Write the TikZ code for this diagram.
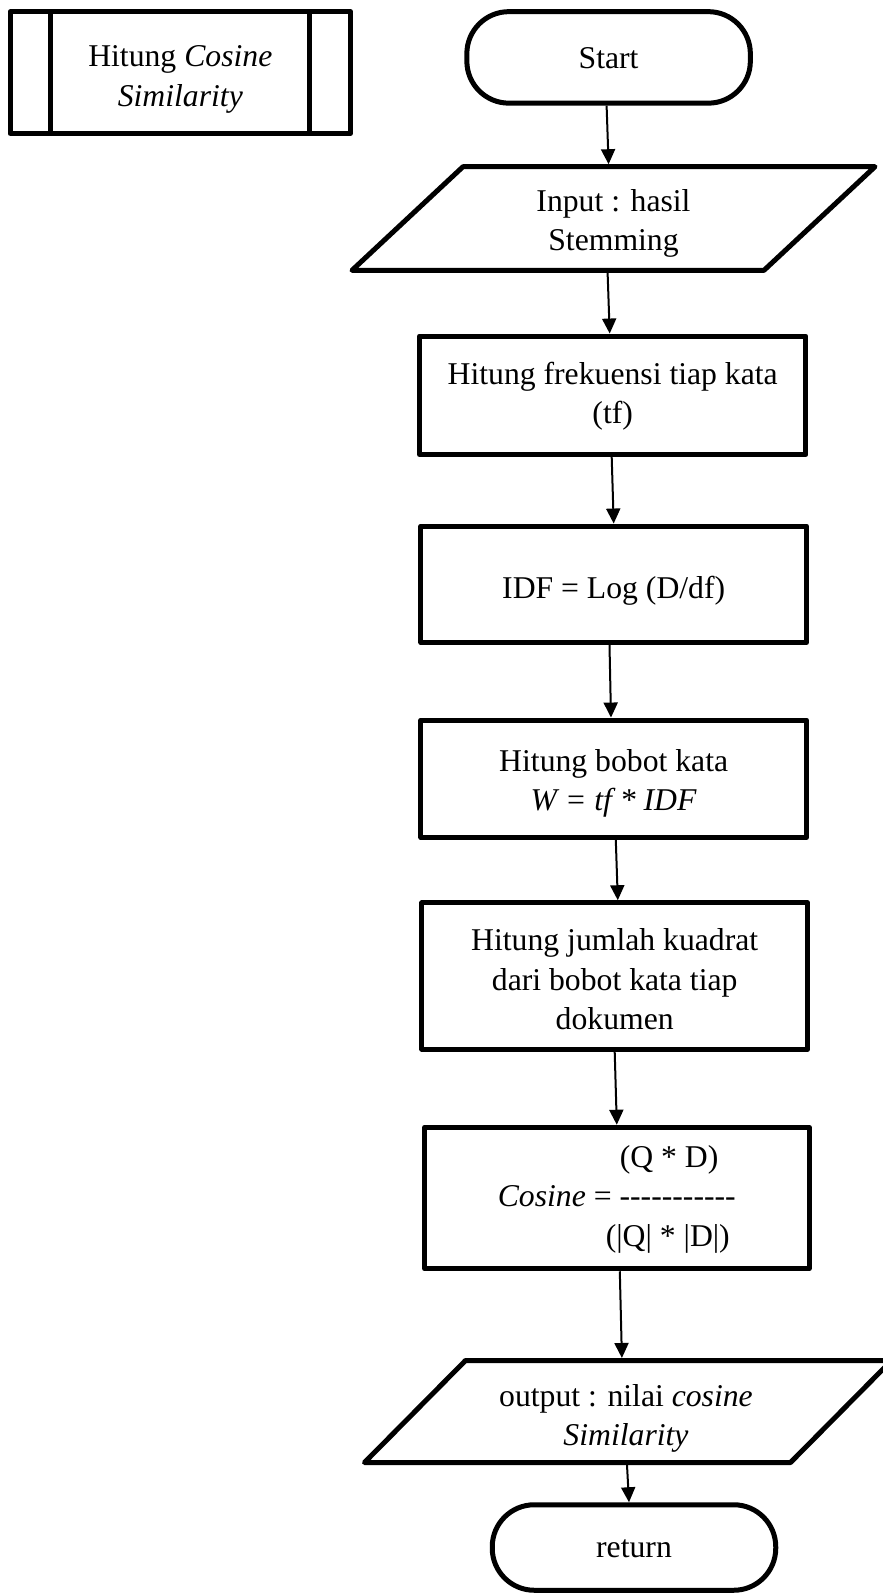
\documentclass[tikz,border=0pt]{standalone}
\usepackage{fontspec}
\setmainfont{Liberation Serif}
\usetikzlibrary{arrows.meta,calc}
\begin{document}
\begin{tikzpicture}[x=1pt,y=-1pt,
  every node/.style={font=\fontsize{31.7}{39.5}\selectfont, align=center, inner sep=0pt},
  border/.style={draw, line width=5pt, line join=round},
  procbox/.style={border, minimum width=385.5pt},
  term/.style={border, rounded corners=42pt, minimum width=283.5pt},
  anchorbox/.style={minimum width=300pt, outer sep=2.5pt},
  lbl/.style={},
  arr/.style={line width=2pt, -{Triangle[width=14pt,length=15pt]}}]
\useasboundingbox (0,0) rectangle (883,1593);

% predefined-process symbol
\node[border, minimum width=340.5pt, minimum height=121.5pt] (sub) at (180.3,72.6) {};
\draw[border] ([xshift=43.3pt]sub.north west) -- ([xshift=43.3pt]sub.south west);
\draw[border] ([xshift=-43.2pt]sub.north east) -- ([xshift=-43.2pt]sub.south east);
\node[lbl] (subL) at ([yshift=-7pt]sub.center) {Hitung \textit{Cosine}\\\textit{Similarity}};

% terminators
\node[term, minimum height=91.5pt] (start) at (608.6,57.4) {};
\node[lbl] (startL) at ([yshift=-1pt]start.center) {Start};
\node[term, minimum height=85.5pt] (ret) at (634,1547.5) {};
\node[lbl] (retL) at ([yshift=-1pt]ret.center) {return};

% input parallelogram
\node[anchorbox, minimum height=103.6pt] (input) at (613.5,218.5) {};
\draw[border] ($(input.center)+(-150.5,-51.8)$) -- ++(412,0) -- ++(-111,103.6) -- ++(-412,0) -- cycle;
\node[lbl] (inputL) at ([yshift=-5pt]input.center) {Input : hasil\\Stemming};

% processes
\node[procbox, minimum width=386.5pt, minimum height=118.5pt] (tf) at (612.7,395.3) {};
\node[lbl] (tfL) at ([yshift=-1pt]tf.center) {Hitung frekuensi tiap kata\\(tf)};
\node[procbox, minimum height=116.5pt] (idf) at (613.7,584.3) {};
\node[lbl] (idfL) at ([yshift=-6pt]idf.center) {IDF = Log (D/df)};
\node[procbox, minimum height=117.5pt] (bobot) at (613.7,778.8) {};
\node[lbl] (bobotL) at ([yshift=-4.5pt]bobot.center) {Hitung bobot kata\\\textit{W = tf * IDF}};
\node[procbox, minimum height=146.5pt] (jumlah) at (614.7,976) {};
\node[lbl] (jumlahL) at ([yshift=-3.5pt]jumlah.center) {Hitung jumlah kuadrat\\dari bobot kata tiap\\dokumen};
\node[procbox, minimum width=384.5pt, minimum height=141.5pt] (cosine) at (616.8,1198) {};
\node[lbl, align=left] (cosineL) at ([yshift=-1pt]cosine.center)
  {\hspace*{122pt}(Q * D)\\\textit{Cosine} = -{}-{}-{}-{}-{}-{}-{}-{}-{}-{}-\\\hspace*{108pt}(|Q| * |D|)};

% output parallelogram
\node[anchorbox, minimum height=102pt] (output) at (628,1411.5) {};
\draw[border] ($(output.center)+(-162.5,-51)$) -- ++(426,0) -- ++(-101,102) -- ++(-426,0) -- cycle;
\node[lbl] (outputL) at ($(output.center)+(-2,7)$) {output : nilai \textit{cosine}\\\textit{Similarity}};

% flow
\draw[arr] ([xshift=-2pt]start.south) -- ([xshift=-4.9pt]input.north);
\draw[arr] ([xshift=-5.9pt]input.south) -- ([xshift=-3pt]tf.north);
\draw[arr] ([xshift=-1pt]tf.south) -- (idf.north);
\draw[arr] ([xshift=-4.2pt]idf.south) -- ([xshift=-2.7pt]bobot.north);
\draw[arr] ([xshift=2.1pt]bobot.south) -- ([xshift=3.1pt]jumlah.north);
\draw[arr] (jumlah.south) -- (cosine.north);
\draw[arr] ([xshift=3pt]cosine.south) -- ([xshift=-6.1pt]output.north);
\draw[arr] ([xshift=-1pt]output.south) -- ([xshift=-5pt]ret.north);
\end{tikzpicture}
\end{document}
